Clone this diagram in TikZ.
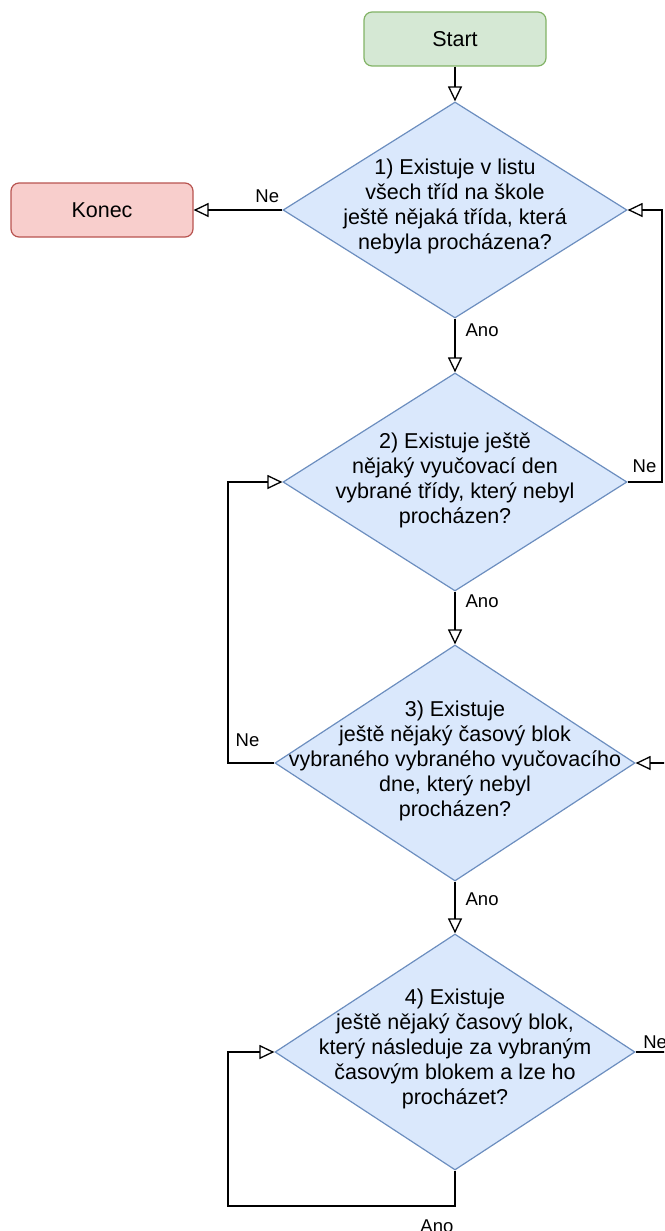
\documentclass[tikz,border=0pt]{standalone}
\usepackage{fontspec}
\setmainfont{Liberation Sans}
\usetikzlibrary{arrows.meta,shapes.geometric}

\definecolor{startfill}{HTML}{D5E8D4}
\definecolor{startdraw}{HTML}{82B366}
\definecolor{endfill}{HTML}{F8CECC}
\definecolor{enddraw}{HTML}{B85450}
\definecolor{decfill}{HTML}{DAE8FC}
\definecolor{decdraw}{HTML}{6C8EBF}

\begin{document}
\begin{tikzpicture}[x=1pt,y=-1pt,
txt/.style={font=\fontsize{21.5}{25}\selectfont, align=center},
lbl/.style={font=\fontsize{18.5}{20}\selectfont, inner sep=1pt},
term/.style={rectangle, rounded corners=8pt, minimum width=182pt, minimum height=54pt, line width=1.2pt, txt},
startbox/.style={term, draw=startdraw, fill=startfill},
endbox/.style={term, draw=enddraw, fill=endfill},
dec/.style 2 args={diamond, draw=decdraw, fill=decfill, line width=1.2pt, inner sep=0pt, minimum width=#1, minimum height=#2},
arrow/.style={-{Triangle[open,length=15pt,width=14pt]}, line width=1.3pt},
line/.style={line width=1.3pt} ]

\useasboundingbox (0,0) rectangle (664,1231);
\clip (0,0) rectangle (664,1231);

\node[startbox] (S) at (455,39) {Start};

\node[endbox] (K) at (102,210) {Konec};

\node[dec={344pt}{216pt}] (D1) at (455,210) {};
\node[txt] (T1) at (455,206) {1) Existuje v listu\\všech tříd na škole\\ještě nějaká třída, která\\nebyla procházena?};

\node[dec={344pt}{218pt}] (D2) at (455,482) {};
\node[txt] (T2) at (455,480) {2) Existuje ještě\\nějaký vyučovací den\\vybrané třídy, který nebyl\\procházen?};

\node[dec={360pt}{236pt}] (D3) at (455,763) {};
\node[txt] (T3) at (455,761) {3) Existuje\\ještě nějaký časový blok\\vybraného vybraného vyučovacího\\dne, který nebyl\\procházen?};

\node[dec={360pt}{236pt}] (D4) at (455,1052) {};
\node[txt] (T4) at (455,1049) {4) Existuje\\ještě nějaký časový blok,\\který následuje za vybraným\\časovým blokem a lze ho\\procházet?};

% loop columns and free ends
\coordinate (R) at (662,0);
\coordinate (L) at (228,0);
\coordinate (B) at (0,1206);
\coordinate (X3) at (700,763);
\coordinate (X4) at (700,1052);

\draw[arrow] (S) -- (D1);

\draw[arrow] (D1) -- node[lbl, above, pos=0.17, yshift=6pt] {Ne} (K);

\draw[arrow] (D1) -- node[lbl, right, pos=0.22, xshift=9pt] {Ano} (D2);

\draw[arrow] (D2.east) -- (D2.east -| R) node[lbl, above left, xshift=-4pt, yshift=8pt] {Ne} -- (D1.east -| R) -- (D1.east);

\draw[arrow] (D2) -- node[lbl, right, pos=0.19, xshift=9pt] {Ano} (D3);

\draw[arrow] (D3.west) -- (D3.west -| L) node[lbl, above right, xshift=6pt, yshift=15pt] {Ne} -- (D2.west -| L) -- (D2.west);

\draw[arrow] (X3) -- (D3.east);

\draw[arrow] (D3) -- node[lbl, right, pos=0.34, xshift=9pt] {Ano} (D4);

\draw[arrow] (D4.south) -- (D4.south |- B) node[lbl, below left, yshift=-12pt] {Ano} -- (B -| L) -- (D4.west -| L) -- (D4.west);

\draw[line] (D4.east) -- node[lbl, above right, pos=0, xshift=6pt, yshift=2pt] {Ne} (X4);

\end{tikzpicture}
\end{document}
